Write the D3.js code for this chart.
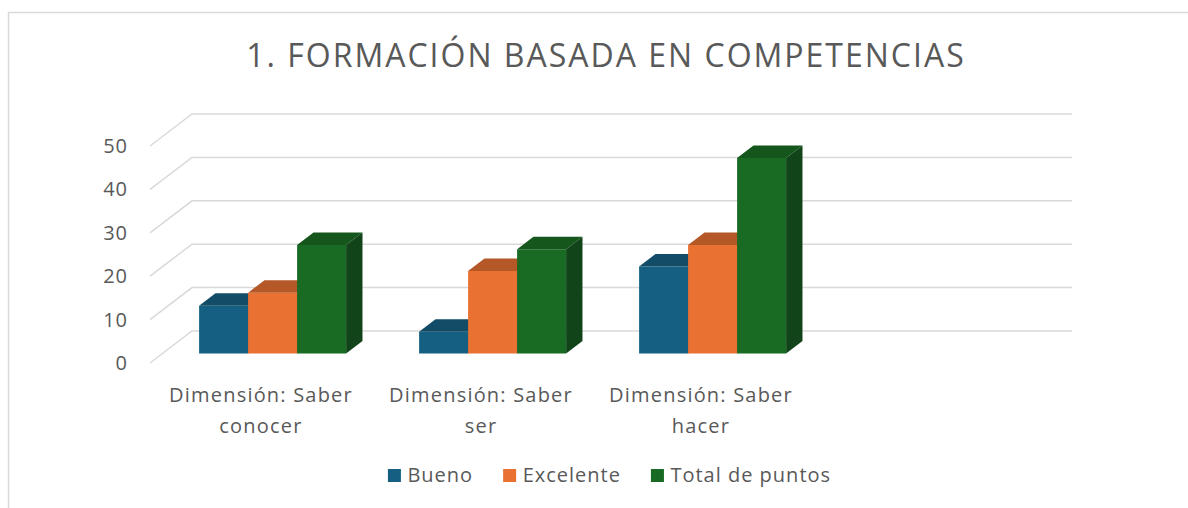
<!DOCTYPE html>
<html>
<head>
<meta charset="utf-8">
<script src="https://cdn.jsdelivr.net/npm/d3@7"></script>
<style>
  html, body { margin: 0; padding: 0; background: #fff; }
  svg { display: block; }
  text { font-family: "Open Sans", "Noto Sans", sans-serif; fill: #595959; }
</style>
</head>
<body>
<svg id="chart" width="1188" height="508"></svg>
<script>
// ---- data ----
const title = "1. FORMACIÓN BASADA EN COMPETENCIAS";
const categories = ["Dimensión: Saber conocer", "Dimensión: Saber ser", "Dimensión: Saber hacer"];
const seriesNames = ["Bueno", "Excelente", "Total de puntos"];
const bueno = [11, 5, 20];
const excelente = [14, 19, 25];
const totalPuntos = [25, 24, 45];
const yTicks = [0, 10, 20, 30, 40, 50];
const frontColors = ["#156082", "#E97132", "#196B24"];
const topColors = ["#124c66", "#b45828", "#15561d"];
const sideColors = ["#0f3f55", "#9a4a20", "#114419"];

const seriesValues = [bueno, excelente, totalPuntos];

// ---- layout ----
const svg = d3.select("#chart");
const slots = [...categories, ""];          // the chart keeps an empty 4th category slot
const depthDX = 42, depthDY = -32;           // oblique depth of the floor
const barD1 = 0.30, barD2 = 0.69;            // bar depth span within the floor

const x0 = d3.scaleBand().domain(d3.range(slots.length)).range([150, 1030]).paddingInner(0);
const x1 = d3.scaleBand().domain(seriesNames).range([0, x0.bandwidth()]).paddingInner(0).paddingOuter(0.745);
const y = d3.scaleLinear().domain([0, 50]).range([363, 146]);

const P = (x, v, d) => [x + d * depthDX, y(v) + d * depthDY];
const poly = pts => "M" + pts.map(p => p.join(",")).join("L") + "Z";

// border
svg.append("rect")
  .attr("x", 8.5).attr("y", 12.5).attr("width", 1300).attr("height", 600)
  .attr("fill", "#fff").attr("stroke", "#d9d9d9").attr("stroke-width", 1.5);

// title
svg.append("text")
  .attr("x", 606).attr("y", 67)
  .attr("text-anchor", "middle")
  .style("font-size", "32px")
  .style("letter-spacing", "2px")
  .text(title);

// gridlines (side wall diagonal + back wall)
const gridG = svg.append("g");
const xLeft = x0.range()[0], xRight = x0.range()[1];
yTicks.forEach(t => {
  const a = P(xLeft, t, 0), b = P(xLeft, t, 1), c = P(xRight, t, 1);
  gridG.append("path")
    .attr("d", `M${a}L${b}L${c}`)
    .attr("fill", "none")
    .attr("stroke", "#d9d9d9")
    .attr("stroke-width", 1.5);
});

// y tick labels
svg.append("g").selectAll("text").data(yTicks).join("text")
  .attr("x", 128).attr("y", d => y(d))
  .attr("dy", "0.35em")
  .attr("text-anchor", "end")
  .style("font-size", "20px")
  .style("letter-spacing", "1px")
  .text(d => d);

// bars
const barsG = svg.append("g");
categories.forEach((cat, ci) => {
  seriesNames.forEach((s, si) => {
    const v = seriesValues[si][ci];
    const xa = x0(ci) + x1(s);
    const xb = xa + x1.bandwidth();
    const g = barsG.append("g");
    g.append("path")
      .attr("d", poly([P(xa, 0, barD1), P(xa, v, barD1), P(xb, v, barD1), P(xb, 0, barD1)]))
      .attr("fill", frontColors[si]);
    g.append("path")
      .attr("d", poly([P(xa, v, barD1), P(xa, v, barD2), P(xb, v, barD2), P(xb, v, barD1)]))
      .attr("fill", topColors[si]);
    g.append("path")
      .attr("d", poly([P(xb, 0, barD1), P(xb, v, barD1), P(xb, v, barD2), P(xb, 0, barD2)]))
      .attr("fill", sideColors[si]);
  });
});

// category labels (wrapped)
const catG = svg.append("g");
const catFont = 20, catSpacing = "1.2px";
function wrapLabel(text, maxW) {
  const words = text.split(" ");
  const lines = [];
  let cur = "";
  const tmp = svg.append("text").style("font-size", catFont + "px").style("letter-spacing", catSpacing);
  words.forEach(w => {
    const test = cur ? cur + " " + w : w;
    tmp.text(test);
    if (tmp.node().getComputedTextLength() > maxW && cur) {
      lines.push(cur);
      cur = w;
    } else cur = test;
  });
  if (cur) lines.push(cur);
  tmp.remove();
  return lines;
}
slots.forEach((cat, ci) => {
  if (!cat) return;
  const lines = wrapLabel(cat, 200);
  const cx = x0(ci) + x0.bandwidth() / 2 + 1;
  const t = catG.append("text")
    .attr("text-anchor", "middle")
    .style("font-size", catFont + "px")
    .style("letter-spacing", catSpacing);
  lines.forEach((ln, li) => {
    t.append("tspan").attr("x", cx).attr("y", 402 + li * 31).text(ln);
  });
});

// legend
const legG = svg.append("g");
const sq = 13, gapSq = 6.5, gapItem = 30;
let items = seriesNames.map((s, i) => {
  const t = legG.append("text").style("font-size", "20px").style("letter-spacing", "1px")
    .attr("y", 482).text(s);
  return { t, w: t.node().getComputedTextLength(), i };
});
const totalW = d3.sum(items, d => sq + gapSq + d.w) + gapItem * (items.length - 1);
let lx = 609.5 - totalW / 2;
items.forEach(d => {
  legG.append("rect").attr("x", lx).attr("y", 469).attr("width", sq).attr("height", sq)
    .attr("fill", frontColors[d.i]);
  d.t.attr("x", lx + sq + gapSq);
  lx += sq + gapSq + d.w + gapItem;
});
</script>
</body>
</html>
